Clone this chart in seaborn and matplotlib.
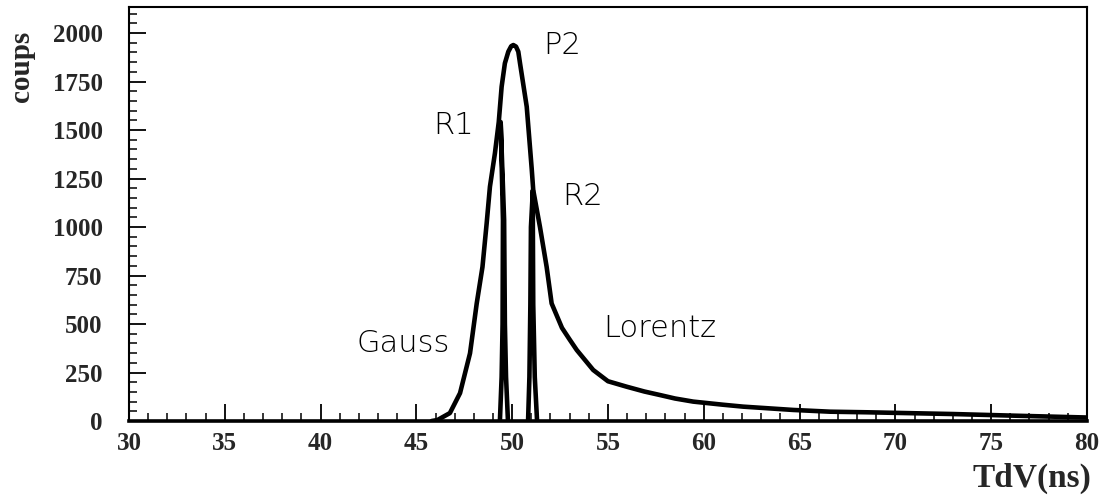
import numpy as np
import pandas as pd
import matplotlib
matplotlib.use("Agg")
import matplotlib.pyplot as plt
import seaborn as sns
from matplotlib.ticker import MultipleLocator

# main peak P2 (gaussian rise, lorentzian tail)
p2_x = [45.8, 46.1, 46.75, 47.28, 47.8, 48.15, 48.45, 48.67, 48.84, 49.1, 49.3,
        49.45, 49.62, 49.8, 49.95, 50.06, 50.2, 50.32, 50.41, 50.76, 51.02, 51.1,
        51.45, 51.8, 52.06, 52.6, 53.0, 53.37, 54.23, 55.0, 55.97, 56.9, 57.71,
        58.5, 59.45, 61.0, 62.06, 64.67, 66.6, 68.5, 70.0, 73.0, 76.0, 80.0]
p2_y = [0, 5, 41, 144, 349, 606, 794, 1020, 1208, 1380, 1541,
        1723, 1844, 1904, 1932, 1938, 1930, 1904, 1844, 1620, 1300, 1190,
        1001, 794, 606, 480, 420, 366, 263, 205, 177, 152, 134,
        116, 100, 84, 74, 57, 48, 45, 42, 36, 28, 18]

# narrow peaks R1 and R2 (left leg up, right leg down)
r1_x = [49.36, 49.45, 49.50, 49.52, 49.40, 49.58, 49.62, 49.68, 49.78]
r1_y = [0, 227, 500, 1036, 1541, 1036, 500, 227, 0]
r2_x = [50.83, 50.90, 50.95, 50.98, 51.08, 51.08, 51.10, 51.18, 51.30]
r2_y = [0, 227, 600, 1000, 1190, 1000, 600, 227, 0]

x_ticks = [30, 35, 40, 45, 50, 55, 60, 65, 70, 75, 80]
y_ticks = [0, 250, 500, 750, 1000, 1250, 1500, 1750, 2000]

sns.set_theme(style="white")
plt.rcParams["font.family"] = ["DejaVu Sans"]

fig = plt.figure(figsize=(11.07, 4.97), dpi=100)
ax = fig.add_axes([0.1165, 0.1529, 0.8654, 0.833])

for xs, ys in [(p2_x, p2_y), (r1_x, r1_y), (r2_x, r2_y)]:
    df = pd.DataFrame({"x": xs, "y": ys})
    sns.lineplot(data=df, x="x", y="y", sort=False, estimator=None,
                 color="black", linewidth=3.3, ax=ax)

ax.set_xlim(30, 80)
ax.set_ylim(0, 2134)
ax.set_xticks(x_ticks)
ax.set_yticks(y_ticks)
ax.xaxis.set_minor_locator(MultipleLocator(1))
ax.yaxis.set_minor_locator(MultipleLocator(50))

serif = {"family": "Liberation Serif", "weight": "bold"}
ax.set_xticklabels([str(v) for v in x_ticks], fontdict=serif, fontsize=18)
ax.set_yticklabels([str(v) for v in y_ticks], fontdict=serif, fontsize=18)
ax.tick_params(axis="both", which="major", direction="in", length=12, width=1.3,
               color="black", bottom=True, left=True, top=False, right=False)
ax.tick_params(axis="both", which="minor", direction="in", length=6, width=1.1,
               color="black", bottom=True, left=True, top=False, right=False)
ax.tick_params(axis="x", which="major", pad=8)
ax.tick_params(axis="y", which="major", pad=19)

for side in ["top", "right", "left"]:
    ax.spines[side].set_color("black")
    ax.spines[side].set_linewidth(1.5)
ax.spines["bottom"].set_color("black")
ax.spines["bottom"].set_linewidth(2.6)

ax.set_xlabel("")
ax.set_ylabel("")
fig.text(0.932, 0.038, "TdV(ns)", fontdict=serif, fontsize=24, ha="center", va="center")
fig.text(0.019, 0.867, "coups", fontdict=serif, fontsize=21, rotation=90,
         ha="center", va="center")

# peak annotations
lab = dict(fontsize=22, color="black", va="center", family="DejaVu Sans",
           fontweight="light")
ax.text(51.6, 1938, "P2", ha="left", **lab)
ax.text(46.96, 1521, "R1", ha="center", **lab)
ax.text(53.7, 1155, "R2", ha="center", **lab)
ax.text(44.3, 402, "Gauss", ha="center", **lab)
ax.text(57.7, 479, "Lorentz", ha="center", **lab)

fig.savefig("out.png", dpi=100)
